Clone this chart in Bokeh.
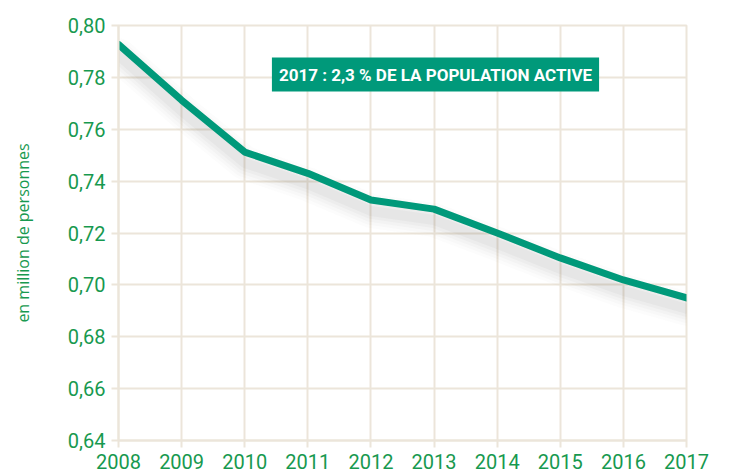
from bokeh.plotting import figure
from bokeh.models import ColumnDataSource, FixedTicker, Label, Range1d
from bokeh.transform import dodge
from bokeh.core.properties import value
from bokeh.embed import file_html
from bokeh.resources import INLINE

years = [2008, 2009, 2010, 2011, 2012, 2013, 2014, 2015, 2016, 2017]
values = [0.7927, 0.7712, 0.7512, 0.7430, 0.7327, 0.7292, 0.7200, 0.7104, 0.7019, 0.6950]
y_ticks = [0.64, 0.66, 0.68, 0.70, 0.72, 0.74, 0.76, 0.78, 0.80]
y_tick_labels = ["0,64", "0,66", "0,68", "0,70", "0,72", "0,74", "0,76", "0,78", "0,80"]
end_label = ["0,7"]
annotation_text = "2017 : 2,3 % DE LA POPULATION ACTIVE"
y_axis_title = "en million de personnes"

TEAL = "#00997a"
GREEN = "#17994f"
GRID = "#ece5da"
FONT = "Roboto"

src = ColumnDataSource(dict(x=years, y=values))
end_src = ColumnDataSource(dict(x=years[-1:], y=values[-1:], t=end_label))

p = figure(width=730, height=474, output_backend="svg", toolbar_location=None,
           x_range=Range1d(years[0], years[-1]), y_range=Range1d(y_ticks[0], y_ticks[-1]),
           min_border_left=118, min_border_right=44, min_border_top=25, min_border_bottom=34)
p.outline_line_color = GRID
p.outline_line_width = 2
p.background_fill_color = "white"
p.border_fill_color = "white"

# soft drop shadow under the line
for w, a in [(34, 0.02), (28, 0.025), (22, 0.03), (16, 0.035), (10, 0.04)]:
    p.line(x="x", y=dodge("y", -0.0042), source=src, line_color="#505050",
           line_width=w, line_alpha=a, line_join="round", line_cap="round")

p.line(x="x", y="y", source=src, line_color=TEAL, line_width=7,
       line_join="round", line_cap="round")

p.text(x="x", y="y", text="t", source=end_src, text_color=TEAL,
       text_font=value(FONT), text_font_style="bold", text_font_size="22px",
       text_baseline="middle", text_align="left", x_offset=11)

for ax in (p.xaxis, p.yaxis):
    ax.axis_line_color = GRID
    ax.axis_line_width = 2
    ax.major_tick_line_color = GRID
    ax.major_tick_line_width = 2
    ax.major_tick_out = 7
    ax.major_tick_in = 0
    ax.minor_tick_line_color = None
    ax.major_label_text_color = GREEN
    ax.major_label_text_font = FONT
    ax.major_label_text_font_size = "20px"
    ax.major_label_standoff = 6

p.xaxis.ticker = FixedTicker(ticks=years)
p.yaxis.ticker = FixedTicker(ticks=y_ticks)
p.yaxis.major_label_overrides = {t: l for t, l in zip(y_ticks, y_tick_labels)}
p.yaxis.axis_label = y_axis_title
p.yaxis.axis_label_text_color = GREEN
p.yaxis.axis_label_text_font = "Open Sans"
p.yaxis.axis_label_text_font_style = "normal"
p.yaxis.axis_label_text_font_size = "16px"
p.yaxis.axis_label_standoff = 31

p.xgrid.grid_line_color = GRID
p.ygrid.grid_line_color = GRID
p.xgrid.grid_line_width = 2
p.ygrid.grid_line_width = 2

lab = Label(x=317, y=366, x_units="screen", y_units="screen", text=annotation_text,
            text_color="white", text_font=FONT, text_font_style="bold",
            text_font_size="17px", text_align="center", text_baseline="middle",
            background_fill_color=TEAL, padding=7)
p.add_layout(lab)

open("out.html", "w").write(file_html(p, INLINE))
